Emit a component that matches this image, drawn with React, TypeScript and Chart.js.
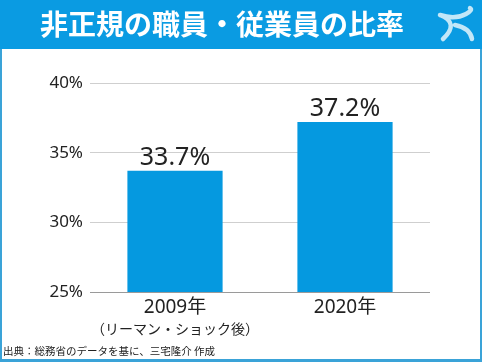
import React, { useEffect, useRef } from "react";
import { Chart, registerables } from "chart.js";

Chart.register(...registerables);

const title = "非正規の職員・従業員の比率";
const categories = ["2009年", "2020年"];
const subLabels = ["（リーマン・ショック後）", ""];
const values = [33.7, 37.2];
const yTicks = [25, 30, 35, 40];
const source = "出典：総務省のデータを基に、三宅隆介 作成";

const FONT = "'Noto Sans', 'Noto Sans CJK JP', sans-serif";
const BLUE = "#0a9be2";
const BAR = "#0599e0";

const decor = {
  id: "decor",
  beforeDraw(chart: any) {
    const ctx = chart.ctx;
    const W = chart.width;
    const H = chart.height;
    ctx.save();
    ctx.fillStyle = "#ffffff";
    ctx.fillRect(0, 0, W, H);
    ctx.fillStyle = BLUE;
    ctx.fillRect(0, 0, W, 49);
    ctx.fillStyle = "#ffffff";
    ctx.font = `bold 28px 'Noto Sans CJK JP', sans-serif`;
    ctx.textAlign = "center";
    ctx.textBaseline = "middle";
    ctx.fillText(title, 222, 24);
    // logo
    ctx.strokeStyle = "#c2e7f8";
    ctx.lineWidth = 4.5;
    ctx.lineCap = "round";
    ctx.lineJoin = "round";
    ctx.beginPath();
    ctx.moveTo(440, 15);
    ctx.quadraticCurveTo(460, 23, 443, 39);
    ctx.moveTo(440, 15);
    ctx.quadraticCurveTo(455, 20, 466, 14);
    ctx.quadraticCurveTo(473, 10, 470, 8);
    ctx.moveTo(455, 25);
    ctx.quadraticCurveTo(470, 28, 472, 39);
    ctx.stroke();
    ctx.restore();
  },
  afterDraw(chart: any) {
    const ctx = chart.ctx;
    const W = chart.width;
    const H = chart.height;
    const x = chart.scales.x;
    ctx.save();
    ctx.fillStyle = "#222222";
    ctx.textAlign = "center";
    ctx.textBaseline = "alphabetic";
    categories.forEach((c, i) => {
      const px = x.getPixelForValue(i);
      ctx.font = `19px ${FONT}`;
      ctx.fillText(c, px, 313);
      if (subLabels[i]) {
        ctx.font = `14px ${FONT}`;
        ctx.fillText(subLabels[i], px, 334);
      }
    });
    // data labels
    const meta = chart.getDatasetMeta(0);
    ctx.font = `25px ${FONT}`;
    meta.data.forEach((bar: any, i: number) => {
      ctx.fillText(values[i].toFixed(1) + "%", bar.x, bar.y - 6);
    });
    // source
    ctx.textAlign = "left";
    ctx.font = `10.5px 'Noto Sans CJK JP', sans-serif`;
    ctx.fillText(source, 3, 355);
    // frame
    ctx.fillStyle = "#3aa3d8";
    ctx.fillRect(0, 49, 2, H - 49);
    ctx.fillRect(W - 2, 49, 2, H - 49);
    ctx.fillRect(0, H - 3, W, 3);
    ctx.restore();
  },
};

export default function App() {
  const ref = useRef<HTMLCanvasElement>(null);
  useEffect(() => {
    if (!ref.current) return;
    const chart = new Chart(ref.current, {
      type: "bar",
      data: {
        labels: categories,
        datasets: [
          {
            data: values,
            backgroundColor: BAR,
            barPercentage: 0.56,
            categoryPercentage: 1,
          },
        ],
      },
      options: {
        animation: false,
        responsive: false,
        devicePixelRatio: 1,
        layout: { padding: { top: 83, right: 52, left: 0, bottom: 0 } },
        plugins: { legend: { display: false }, tooltip: { enabled: false } },
        scales: {
          x: {
            grid: { display: false },
            border: { display: false },
            ticks: { display: false },
            afterFit(scale: any) {
              scale.height = 70;
            },
          },
          y: {
            min: 25,
            max: 40,
            afterBuildTicks(scale: any) {
              scale.ticks = yTicks.map((v) => ({ value: v }));
            },
            grid: {
              drawTicks: false,
              color: (c: any) => (c.tick && c.tick.value === 25 ? "#9a9a9a" : "#cfcfcf"),
              lineWidth: 1,
            },
            border: { display: false },
            ticks: {
              padding: 7,
              color: "#222222",
              font: { size: 17, family: FONT },
              callback: (v: any) => v + "%",
            },
            afterFit(scale: any) {
              scale.width = 90;
            },
          },
        },
      },
      plugins: [decor],
    });
    return () => chart.destroy();
  }, []);
  return (
    <div style={{ position: "fixed", left: 0, top: 0, width: 482, height: 362 }}>
      <canvas ref={ref} width={482} height={362} />
    </div>
  );
}
